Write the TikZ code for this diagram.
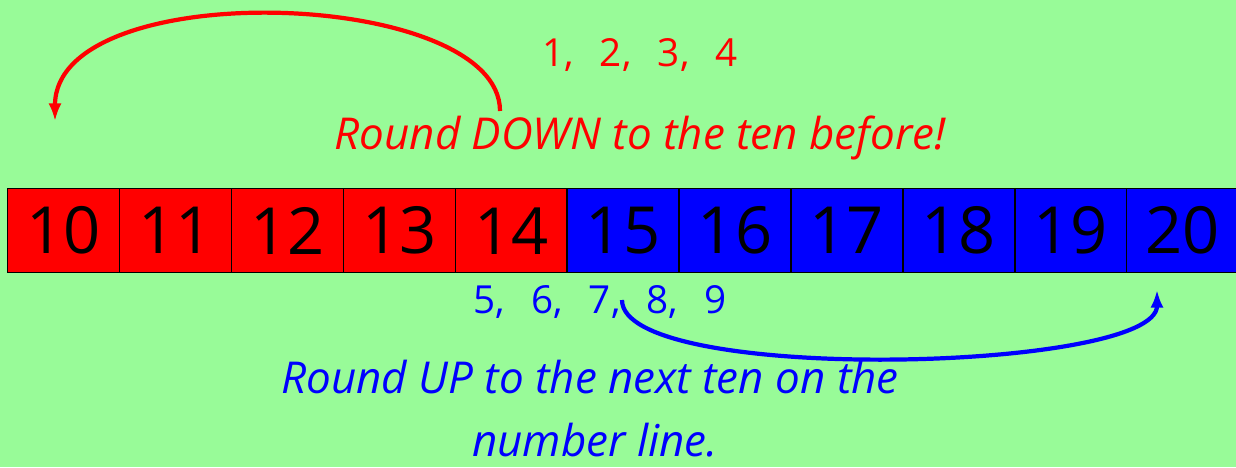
\documentclass[tikz,border=0pt]{standalone}
\usepackage{fontspec}
\setmainfont{Open Sans}
\usetikzlibrary{arrows.meta,positioning}
\definecolor{bggreen}{RGB}{152,251,152}
\definecolor{rdred}{RGB}{255,0,0}
\definecolor{rdblue}{RGB}{0,0,255}
\newcommand{\gap}{\hspace{15pt}}

\begin{document}
\begin{tikzpicture}[
  x=0.02cm, y=-0.02cm,
  cellbox/.style={draw=black,line width=0.8pt,minimum width=2.238cm,minimum height=1.68cm,
                  inner sep=0pt,anchor=north west,font=\fontsize{37}{40}\selectfont},
  hint/.style={font=\fontsize{22}{24}\selectfont},
  rule/.style={font=\fontsize{25}{28}\selectfont\itshape,inner sep=0pt},
  jump/.style={line width=2.4pt,-{Latex[length=10pt,width=7.5pt]}},
]
  % background
  \fill[bggreen] (0,0) rectangle (1236,467);
  \useasboundingbox (0,0) rectangle (1236,467);

  % number line cells
  \foreach \n [count=\i from 0] in {10,...,20} {
    \ifnum\n<15
      \node[cellbox,fill=rdred] (c\n) at (7+111.9*\i,188) {\n};
    \else
      \node[cellbox,fill=rdblue] (c\n) at (7+111.9*\i,188) {\n};
    \fi
  }

  % round down
  \node[hint,text=rdred] (downnums) at (640,55) {1,\gap 2,\gap 3,\gap 4};
  \node[rule,text=rdred] (downrule) at (640,138) {Round DOWN to the ten before!};
  \coordinate (downfrom) at (500,111);
  \coordinate (downto) at (55,121);
  \draw[jump,rdred] (downfrom) .. controls (500,-12) and (55,-26) .. (downto);

  % round up
  \node[hint,text=rdblue] (upnums) at (600,302) {5,\gap 6,\gap 7,\gap 8,\gap 9};
  \node[rule,text=rdblue] (uprule) at (590,377) {Round UP to the next ten on the};
  \node[rule,text=rdblue] (upline) at (595,440) {number line.};
  \coordinate (upfrom) at (622,300);
  \coordinate (upto) at (1157,290);
  \draw[jump,rdblue] (upfrom) .. controls (622,385) and (1157,372) .. (upto);
\end{tikzpicture}
\end{document}
